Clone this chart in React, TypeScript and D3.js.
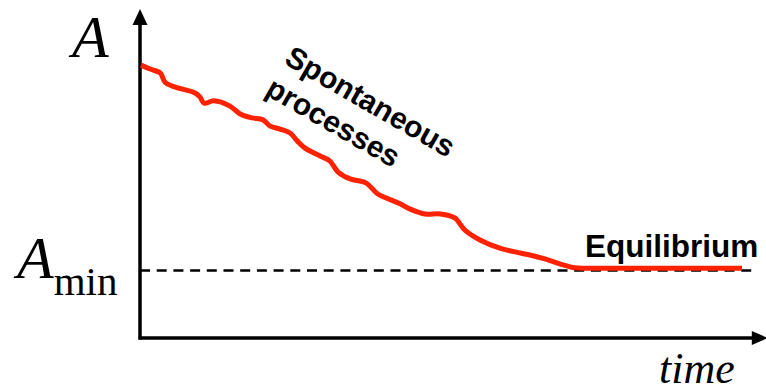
import React from "react";
import * as d3 from "d3";

// Time (arbitrary units, 0..100) and quantity A (arbitrary units, 0..100)
const timeValues = [
  0, 1.5, 3.2, 4.0, 5.2, 9.0, 9.8, 10.5, 12.1, 14.8, 16.5, 18.5, 20.3, 21.5, 23.1,
  24.8, 26.0, 27.3, 29.8, 31.4, 32.8, 34.8, 37.4, 39.4, 40.8, 43.1, 44.8, 47.3,
  49.8, 52.2, 53.9, 56.4, 59.7, 63.1, 64.7, 67.2, 69.7, 72.2, 74.7, 85, 100,
];
const aValues = [
  83.2, 82.0, 80.8, 78.0, 76.8, 74.7, 73.5, 71.6, 72.3, 70.7, 68.3, 67.1, 66.5,
  64.6, 63.7, 62.5, 60.1, 57.9, 55.5, 54.0, 50.6, 48.5, 47.3, 43.9, 42.7, 40.9,
  39.3, 37.8, 37.8, 36.6, 32.9, 29.9, 27.4, 25.9, 25.3, 24.1, 22.6, 21.4, 21.3,
  21.3, 21.3,
];
const aMin = 20.6;
const xAxisEnd = 104.3;
const dashEnd = 101.6;
const yAxisEnd = 100.3;

const labels = {
  yTop: "A",
  yMinMain: "A",
  yMinSub: "min",
  xLabel: "time",
  line1: "Spontaneous",
  line2: "processes",
  eq: "Equilibrium",
};

export default function App() {
  const W = 766;
  const H = 391;
  const x = d3.scaleLinear().domain([0, 100]).range([141, 742]);
  const y = d3.scaleLinear().domain([0, 100]).range([338, 10]);
  const pts: [number, number][] = timeValues.map((t, i) => [t, aValues[i]]);
  const line = d3
    .line<[number, number]>()
    .x((d) => x(d[0]))
    .y((d) => y(d[1]))
    .curve(d3.curveCatmullRom.alpha(0.5));

  const ax = 140;
  const ay = y(0);
  const serif = "'Liberation Serif', 'Times New Roman', serif";
  const sans = "'Liberation Sans', Arial, sans-serif";
  const xTip = x(xAxisEnd);
  const yTip = y(yAxisEnd);

  return (
    <svg
      width={W}
      height={H}
      style={{ position: "absolute", left: 0, top: 0, background: "#fff" }}
    >
      {/* dashed A_min line */}
      <line
        x1={ax}
        x2={x(dashEnd)}
        y1={y(aMin)}
        y2={y(aMin)}
        stroke="#000"
        strokeWidth={2.5}
        strokeDasharray="10 6.7"
      />
      {/* axes */}
      <line x1={ax} x2={ax} y1={ay + 1.5} y2={yTip + 12} stroke="#000" strokeWidth={3.5} />
      <path
        d={`M${ax},${yTip} L${ax - 7.5},${yTip + 16} L${ax + 7.5},${yTip + 16} Z`}
        fill="#000"
      />
      <line x1={ax - 1.5} x2={xTip - 12} y1={ay} y2={ay} stroke="#000" strokeWidth={3.5} />
      <path
        d={`M${xTip},${ay} L${xTip - 16},${ay - 7} L${xTip - 16},${ay + 7} Z`}
        fill="#000"
      />
      {/* curve */}
      <path
        d={line(pts) || ""}
        fill="none"
        stroke="#ff2200"
        strokeWidth={5}
        strokeLinejoin="round"
      />
      {/* labels */}
      <text x={72} y={57} fontFamily={serif} fontStyle="italic" fontSize={60} fill="#000">
        {labels.yTop}
      </text>
      <text x={17} y={278} fontFamily={serif} fontStyle="italic" fontSize={60} fill="#000">
        {labels.yMinMain}
        <tspan fontStyle="normal" fontSize={41} dy={17}>
          {labels.yMinSub}
        </tspan>
      </text>
      <text x={659} y={383} fontFamily={serif} fontStyle="italic" fontSize={44} fill="#000">
        {labels.xLabel}
      </text>
      <text x={585} y={257} fontFamily={sans} fontWeight="bold" fontSize={31.5} fill="#000">
        {labels.eq}
      </text>
      <text
        transform="translate(283,63) rotate(30)"
        fontFamily={sans}
        fontWeight="bold"
        fontSize={30}
        fill="#000"
      >
        {labels.line1}
      </text>
      <text
        transform="translate(264,94) rotate(30)"
        fontFamily={sans}
        fontWeight="bold"
        fontSize={30}
        fill="#000"
      >
        {labels.line2}
      </text>
    </svg>
  );
}
